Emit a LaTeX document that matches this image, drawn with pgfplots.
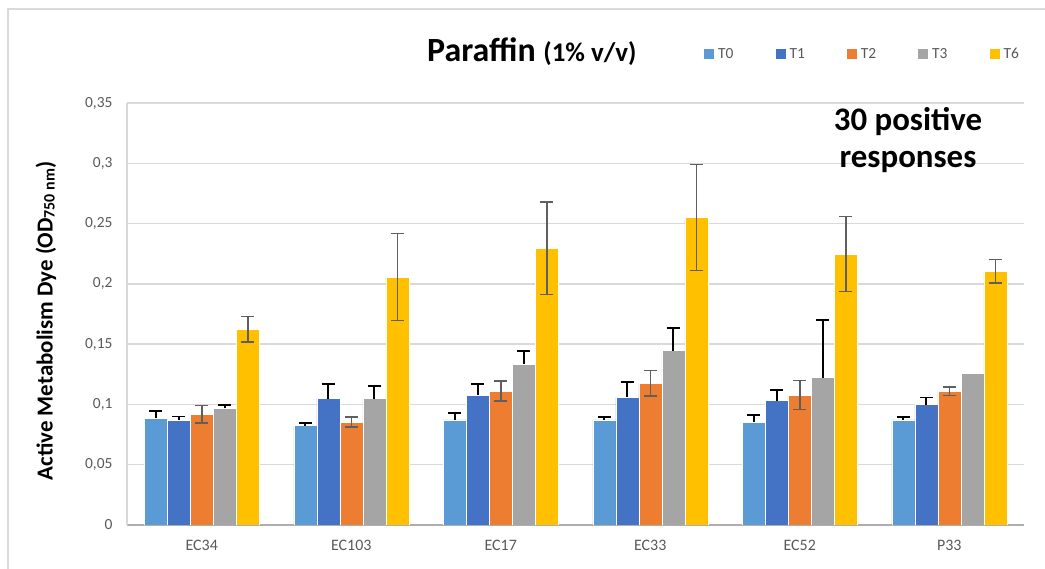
\documentclass[border=0pt]{standalone}
\usepackage{pgfplots}
\pgfplotsset{compat=1.18}
\usepackage{pgfplotstable}
\usepackage{fontspec}
\setmainfont{Carlito}
\definecolor{cT0}{HTML}{5B9BD5}
\definecolor{cT1}{HTML}{4472C4}
\definecolor{cT2}{HTML}{ED7D31}
\definecolor{cT3}{HTML}{A5A5A5}
\definecolor{cT6}{HTML}{FFC000}
\definecolor{gridc}{HTML}{D9D9D9}
\definecolor{txt}{HTML}{595959}
\definecolor{errg}{HTML}{5F5F5F}

\pgfplotstableread{
x T0 e0 T1 e1 T2 e2 T3 e3 T6 e6
0 0.0885 0.006 0.0870 0.003 0.0918 0.0072 0.0967 0.0025 0.1623 0.0105
1 0.0824 0.0025 0.1048 0.012 0.0854 0.0042 0.1048 0.0105 0.2056 0.036
2 0.0871 0.006 0.1078 0.009 0.1111 0.0082 0.1335 0.0108 0.2294 0.0384
3 0.0871 0.0025 0.1061 0.0127 0.1175 0.0105 0.1446 0.019 0.2551 0.044
4 0.0854 0.006 0.1031 0.009 0.1078 0.012 0.1222 0.0475 0.2247 0.031
5 0.0871 0.0025 0.0998 0.006 0.1111 0.0035 0.1255 0 0.2104 0.0097
}\datatab

\pgfplotsset{
  sq/.style={legend image code/.code={\fill[##1,draw=none] (0bp,-5bp) rectangle (10bp,5bp);}},
  errplus/.style={error bars/y dir=plus, error bars/y explicit,
    error bars/error bar style={black, line width=1.8bp},
    error bars/error mark options={rotate=90, black, line width=1.8bp, mark size=6.5bp}},
  errboth/.style={error bars/y dir=both, error bars/y explicit,
    error bars/error bar style={errg, line width=1.5bp},
    error bars/error mark options={rotate=90, errg, line width=1.5bp, mark size=6.5bp}},
}

\begin{document}
\begin{tikzpicture}[x=1bp,y=1bp]
\useasboundingbox (0,0) rectangle (1045,569);
\draw[gridc, line width=1.5bp] (8,-5) -- (8,560) -- (1050,560);

\begin{axis}[
  at={(127bp,44bp)}, anchor=south west,
  scale only axis, width=897bp, height=422bp,
  xmin=-0.5, xmax=5.5, ymin=0, ymax=0.35,
  enlargelimits=false,
  ybar=0pt, bar width=23bp,
  xtick={0,1,2,3,4,5},
  xticklabels={EC34,EC103,EC17,EC33,EC52,P33},
  ytick={0,0.05,0.1,0.15,0.2,0.25,0.3,0.35},
  scaled y ticks=false,
  yticklabel style={font=\fontsize{15.5}{17}\selectfont, text=txt, xshift=-11bp,
    /pgf/number format/use comma, /pgf/number format/fixed,
    /pgf/number format/precision=2, /pgf/number format/assume math mode=true},
  xticklabel style={font=\fontsize{16}{18}\selectfont, text=txt, yshift=-12bp},
  major tick length=0pt,
  ymajorgrids, grid style={gridc, line width=1.5bp},
  axis x line*=bottom, axis y line*=left,
  axis line style={-, draw=gridc, line width=1.5bp},
  x axis line style={draw=gridc!80!black},
  legend columns=5,
  legend style={draw=none, fill=none, at={(rel axis cs:0.6432,1.116)}, anchor=west,
    font=\fontsize{15.5}{17}\selectfont, text=txt, inner sep=0pt,
    nodes={inner sep=0pt},
    /tikz/every odd column/.append style={column sep=4bp},
    /tikz/every even column/.append style={column sep=42bp}},
]
\addplot[sq, fill=cT0, draw=white, line width=0.4bp, bar shift=-46bp, errplus]
  table[x=x, y=T0, y error=e0] {\datatab};
\addlegendentry{T0}
\addplot[sq, fill=cT1, draw=white, line width=0.4bp, bar shift=-23bp, errplus]
  table[x=x, y=T1, y error=e1] {\datatab};
\addlegendentry{T1}
\addplot[sq, fill=cT2, draw=white, line width=0.4bp, bar shift=0bp, errboth]
  table[x=x, y=T2, y error=e2] {\datatab};
\addlegendentry{T2}
\addplot[sq, fill=cT3, draw=white, line width=0.4bp, bar shift=23bp, restrict x to domain=0:4, errplus]
  table[x=x, y=T3, y error=e3] {\datatab};
\addlegendentry{T3}
\addplot[sq, fill=cT6, draw=white, line width=0.4bp, bar shift=46bp, errboth]
  table[x=x, y=T6, y error=e6] {\datatab};
\addlegendentry{T6}
\addplot[fill=cT3, draw=white, line width=0.4bp, bar shift=23bp, forget plot, restrict x to domain=5:5]
  table[x=x, y=T3] {\datatab};
\end{axis}

\node[anchor=base west, inner sep=0pt] at (427,507)
  {\fontsize{34}{36}\selectfont\bfseries Paraffin {\fontsize{27}{29}\selectfont (1\% v/v)}};
\node[anchor=base, inner sep=0pt, font=\fontsize{33}{36}\selectfont\bfseries] at (908,438) {30 positive};
\node[anchor=base, inner sep=0pt, font=\fontsize{33}{36}\selectfont\bfseries] at (908,401) {responses};
\node[rotate=90, inner sep=0pt, font=\fontsize{23}{26}\selectfont\bfseries] at (46,248)
  {Active Metabolism Dye (OD\raisebox{-2bp}{\fontsize{16}{18}\selectfont 750 nm})};
\end{tikzpicture}
\end{document}
